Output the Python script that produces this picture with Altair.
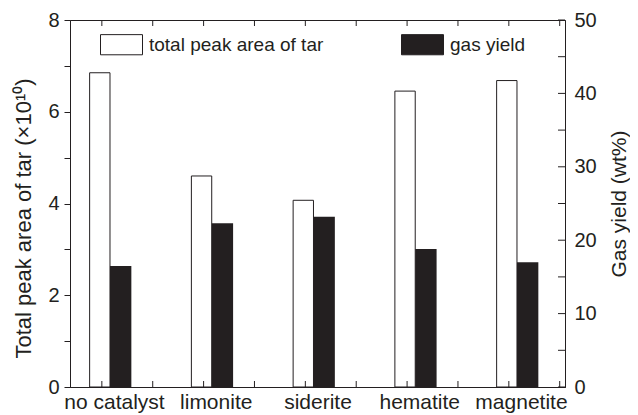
import altair as alt
import pandas as pd

# ---- data ----
categories = ["no catalyst", "limonite", "siderite", "hematite", "magnetite"]
tar_area = [6.85, 4.60, 4.07, 6.45, 6.68]      # x 10^10
gas_yield = [16.5, 22.3, 23.2, 18.8, 17.0]     # wt%

left_ticks = [0, 1, 2, 3, 4, 5, 6, 7, 8]
right_ticks = [0, 5, 10, 15, 20, 25, 30, 35, 40, 45, 50]
right_labels = [0, 10, 20, 30, 40, 50]
x_minor_ticks = [-0.08, 0.42, 0.92, 1.42, 1.92, 2.42, 2.92, 3.42, 3.92, 4.42]

series_names = ["total peak area of tar", "gas yield"]

W, H = 495, 367
FONT = "Liberation Sans"
INK = "#231f20"

df = pd.DataFrame({
    "idx": list(range(len(categories))),
    "category": categories,
    "tar": tar_area,
    "gas": gas_yield,
})
ticks_x = pd.DataFrame({"t": x_minor_ticks})
ticks_r = pd.DataFrame({"v": right_ticks})

label_expr = "[" + ",".join("'" + c + "'" for c in categories) + "][datum.value]"

xscale = alt.Scale(domain=[-0.393, 4.472], nice=False, zero=False)
xaxis = alt.Axis(values=list(range(len(categories))), labelExpr=label_expr,
                 tickSize=0, labelFontSize=21, labelPadding=4, labelOffset=4,
                 domainColor=INK, labelColor=INK, title=None, grid=False,
                 labelLimit=0, labelOverlap=False)

tar_scale = alt.Scale(domain=[0, 8], nice=False, zero=True)
gas_scale = alt.Scale(domain=[0, 50], nice=False, zero=True)

color_scale = alt.Scale(domain=series_names, range=["white", INK])
legend = alt.Legend(title=None, orient="none", legendX=30, legendY=3,
                    direction="horizontal",
                    symbolType="M-1,-0.48H1V0.48H-1Z", symbolSize=1764,
                    symbolStrokeColor=INK, symbolStrokeWidth=1,
                    labelFontSize=19, labelOffset=6, labelColor=INK,
                    labelLimit=0, columnPadding=75)

white_bars = alt.Chart(df).transform_calculate(
    x0="datum.idx - 0.2", series="'" + series_names[0] + "'"
).mark_bar(stroke=INK, strokeWidth=1).encode(
    x=alt.X("x0:Q", scale=xscale, axis=xaxis),
    x2=alt.X2("idx:Q"),
    y=alt.Y("tar:Q", scale=tar_scale,
            axis=alt.Axis(values=left_ticks,
                          labelExpr="datum.value % 2 == 0 ? datum.label : ''",
                          tickSize=6, tickColor=INK, domainColor=INK,
                          labelColor=INK, labelFontSize=20, labelPadding=5,
                          grid=False, titleFontSize=22, titleFontWeight="normal",
                          titleColor=INK, titlePadding=12, titleY=198,
                          title="Total peak area of tar (×10¹⁰)")),
    y2=alt.Y2Datum(0),
    color=alt.Color("series:N", scale=color_scale, legend=legend),
)

black_bars = alt.Chart(df).transform_calculate(
    x1="datum.idx + 0.21", series="'" + series_names[1] + "'"
).mark_bar().encode(
    x=alt.X("idx:Q", scale=xscale, axis=xaxis),
    x2=alt.X2("x1:Q"),
    y=alt.Y("gas:Q", scale=gas_scale,
            axis=alt.Axis(orient="right", values=right_labels,
                          tickSize=0, domainColor=INK, labelColor=INK,
                          labelFontSize=20, labelPadding=9, grid=False,
                          titleFontSize=21, titleFontWeight="normal",
                          titleColor=INK, titleAngle=270, titleBaseline="top",
                          titleX=43, titleY=H / 2,
                          title="Gas yield (wt%)")),
    y2=alt.Y2Datum(0),
    color=alt.Color("series:N", scale=color_scale, legend=legend),
)

right_inward = alt.Chart(ticks_r).mark_rule(color=INK, strokeWidth=1).encode(
    y=alt.Y("v:Q", scale=gas_scale, axis=None),
    x=alt.value(W - 7),
    x2=alt.value(W),
)

bottom_inward = alt.Chart(ticks_x).mark_rule(color=INK, strokeWidth=1).encode(
    x=alt.X("t:Q", scale=xscale, axis=xaxis),
    y=alt.value(H),
    y2=alt.value(H - 6),
)
top_inward = alt.Chart(ticks_x).mark_rule(color=INK, strokeWidth=1).encode(
    x=alt.X("t:Q", scale=xscale, axis=xaxis),
    y=alt.value(0),
    y2=alt.value(6),
)

chart = alt.layer(
    white_bars, black_bars, right_inward, bottom_inward, top_inward
).resolve_scale(
    y="independent"
).properties(
    width=W, height=H,
    padding={"left": 62, "top": 12, "right": 65, "bottom": 28},
    autosize=alt.AutoSizeParams(type="none"),
).configure(
    font=FONT,
).configure_view(
    stroke=INK, strokeWidth=1,
).configure_axis(
    labelFont=FONT, titleFont=FONT,
).configure_legend(
    labelFont=FONT,
)

chart.save("out.html", embed_options={"renderer": "svg", "actions": False})
